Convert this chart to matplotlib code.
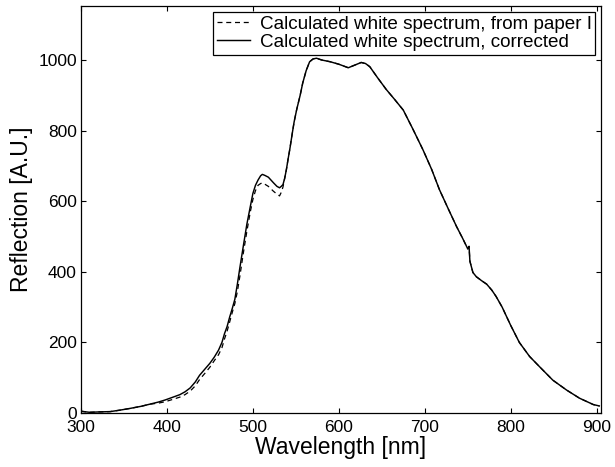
import matplotlib
matplotlib.use("Agg")
from matplotlib import pyplot as plt

plt.rcParams['font.family'] = ['Liberation Sans', 'DejaVu Sans']

# wavelength [nm] and reflection [A.U.]
wl_corrected = [300, 310, 320, 334, 345, 357, 370, 380, 390, 398, 406, 415, 421, 427, 433, 438,
                444, 450, 455, 460, 464, 467, 470, 473, 476, 479, 482, 485, 489, 493, 497, 500,
                503, 506, 509, 511, 514, 518, 521, 524, 528, 531, 533, 535, 537, 539, 541, 543,
                546, 548, 551, 555, 558, 562, 566, 570, 574, 580, 590, 600, 611, 618, 626, 631,
                636, 645, 655, 665, 675, 686, 698, 708, 717, 727, 737, 744, 750, 751.5, 752.5,
                756, 760, 766, 772, 778, 783, 790, 800, 810, 822, 834, 849, 865, 880, 896, 903]
refl_corrected = [5, 2, 3, 4, 8, 13, 19, 25, 31, 37, 44, 52, 60, 71, 88, 107,
                  124, 141, 158, 178, 200, 225, 245, 272, 296, 322, 366, 414, 475, 535, 585, 622,
                  645, 660, 672, 676, 673, 668, 660, 652, 642, 638, 642, 647, 665, 690, 720, 748,
                  795, 825, 860, 900, 935, 970, 995, 1003, 1005, 1000, 995, 988, 978, 985, 993, 990,
                  981, 950, 917, 888, 858, 805, 745, 690, 633, 580, 528, 495, 465, 472, 430,
                  398, 386, 375, 365, 348, 330, 300, 248, 200, 160, 130, 93, 65, 42, 24, 20]

wl_paper = [300, 310, 320, 334, 345, 357, 370, 380, 390, 398, 406, 415, 421, 427, 433, 438,
            444, 450, 455, 460, 464, 467, 470, 473, 476, 479, 482, 485, 489, 493, 497, 500,
            503, 506, 509, 511, 514, 518, 521, 524, 528, 531, 533, 535, 537, 539, 541, 543,
            546, 548, 551, 555, 558, 562, 566, 570, 574, 580, 590, 600, 611, 618, 626, 631,
            636, 645, 655, 665, 675, 686, 698, 708, 717, 727, 737, 744, 750, 751.5, 752.5,
            756, 760, 766, 772, 778, 783, 790, 800, 810, 822, 834, 849, 865, 880, 896, 903]
refl_paper = [5, 2, 3, 4, 8, 13, 19, 25, 28, 32, 38, 45, 52, 62, 77, 95,
              112, 130, 148, 165, 185, 210, 232, 258, 285, 310, 345, 390, 455, 515, 570, 605,
              630, 645, 650, 652, 648, 642, 635, 628, 620, 615, 625, 640, 665, 690, 720, 748,
              795, 825, 860, 900, 935, 970, 995, 1003, 1005, 1000, 995, 988, 978, 985, 993, 990,
              981, 950, 917, 888, 858, 805, 745, 690, 633, 580, 528, 495, 465, 472, 430,
              398, 386, 375, 365, 348, 330, 300, 248, 200, 160, 130, 93, 65, 42, 24, 20]

x_ticks = [300, 400, 500, 600, 700, 800, 900]
y_ticks = [0, 200, 400, 600, 800, 1000]

fig = plt.figure(figsize=(6.15, 4.67), dpi=100)
ax = fig.add_axes([0.1317, 0.1156, 0.8455, 0.8716])

ax.plot(wl_paper, refl_paper, color='black', linestyle=(0, (4, 3)), linewidth=0.9,
        label='Calculated white spectrum, from paper I')
ax.plot(wl_corrected, refl_corrected, color='black', linestyle='-', linewidth=1.05,
        label='Calculated white spectrum, corrected')

ax.set_xlim(300, 905)
ax.set_ylim(0, 1153)
ax.set_xticks(x_ticks)
ax.set_yticks(y_ticks)
ax.tick_params(direction='in', top=True, right=True, length=3.5, width=0.8,
               labelsize=12.5)
ax.tick_params(axis='x', pad=5)
ax.tick_params(axis='y', pad=3)
for s in ax.spines.values():
    s.set_linewidth(0.9)

ax.set_xlabel('Wavelength [nm]', fontsize=16.5, labelpad=1)
ax.set_ylabel('Reflection [A.U.]', fontsize=16.5, labelpad=4)

leg = ax.legend(loc='upper right', fontsize=13.6, frameon=True, fancybox=False,
                edgecolor='black', framealpha=1, handlelength=1.75, handletextpad=0.5,
                borderpad=0.2, labelspacing=0.05, borderaxespad=0.3)
leg.get_frame().set_linewidth(0.9)

fig.savefig('out.png', dpi=100)
